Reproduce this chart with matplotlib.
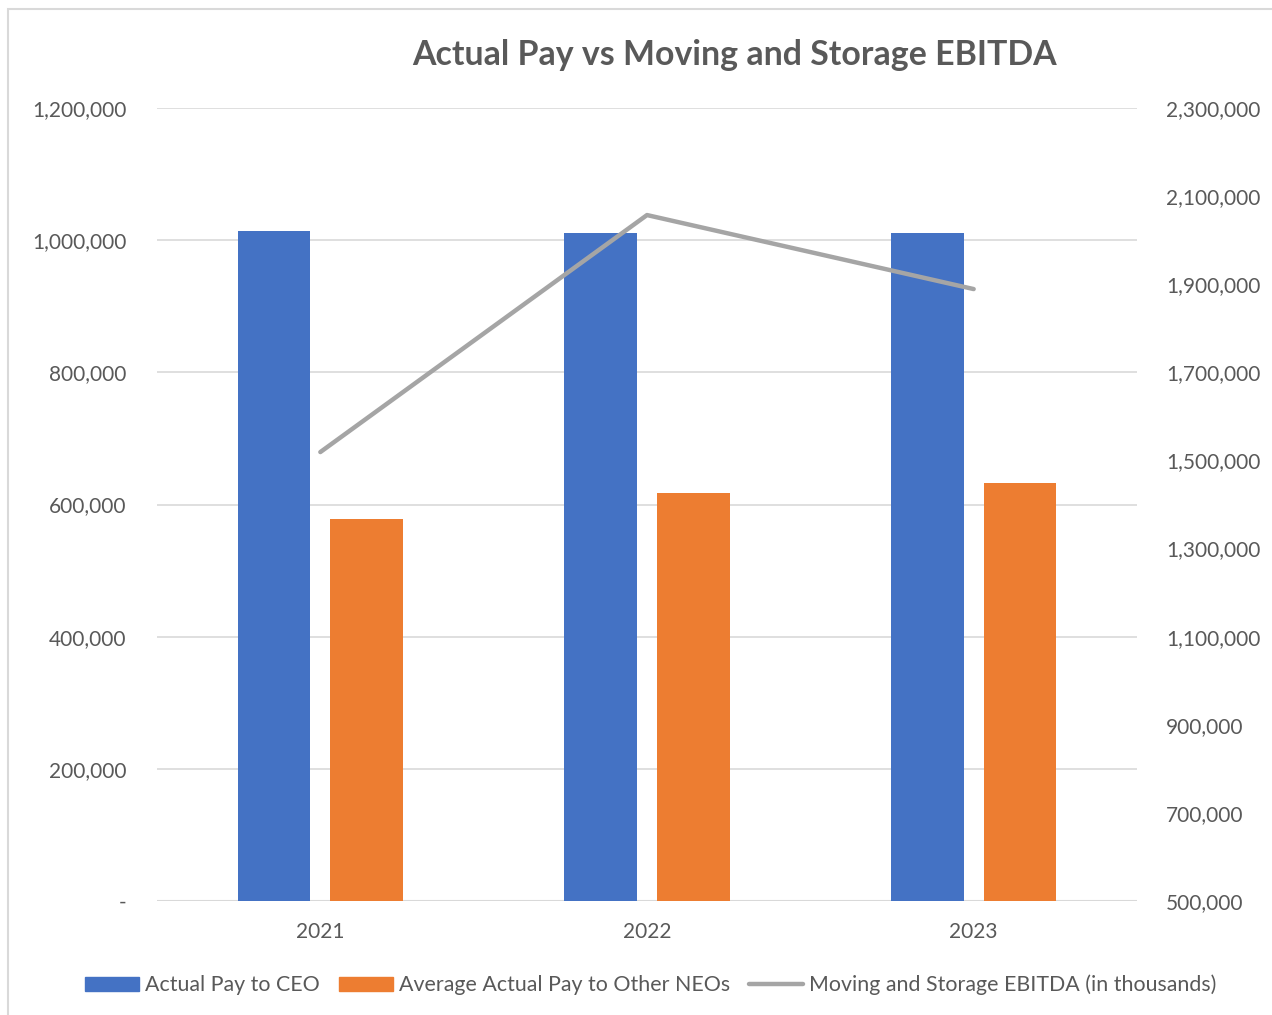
import matplotlib
matplotlib.use('Agg')
import matplotlib.pyplot as plt
from matplotlib.patches import Rectangle
from matplotlib.lines import Line2D
from matplotlib.ticker import FuncFormatter
import numpy as np

plt.rcParams['font.family'] = ['Lato', 'DejaVu Sans']

# Data
years = ['2021', '2022', '2023']
ceo_pay = [1014000, 1011000, 1011000]
neo_pay = [578000, 617000, 632000]
ebitda = [1519000, 2057000, 1889000]

blue = '#4472C4'
orange = '#ED7D31'
gray = '#A5A5A5'
txt = '#595959'
grid = '#D9D9D9'

fig = plt.figure(figsize=(12.72, 10.15), dpi=100)
ax = fig.add_axes([157/1272, 1 - 901/1015, (1137 - 157)/1272, (901 - 108)/1015])
ax2 = ax.twinx()

# chart border (cropped on right and bottom)
fig.patches.append(Rectangle((8/1272, -0.01), 1.0, 1 - 9/1015 + 0.01,
                             transform=fig.transFigure, fill=False,
                             edgecolor=grid, linewidth=1.5))

x = np.arange(len(years))
w = 0.223
off = 0.142
ax.bar(x - off, ceo_pay, w, color=blue, zorder=3)
ax.bar(x + off, neo_pay, w, color=orange, zorder=3)
ax2.plot(x, ebitda, color=gray, linewidth=3.2, solid_capstyle='round', zorder=4)

ax.set_xlim(-0.5, 2.5)
ax.set_ylim(0, 1200000)
ax.set_yticks(np.arange(0, 1200001, 200000))
ax2.set_ylim(500000, 2300000)
ax2.set_yticks(np.arange(500000, 2300001, 200000))

def fmt(v, pos):
    return '-' if v == 0 else f'{int(v):,}'

ax.yaxis.set_major_formatter(FuncFormatter(fmt))
ax2.yaxis.set_major_formatter(FuncFormatter(fmt))
ax.set_xticks(x)
ax.set_xticklabels(years)

ax.grid(axis='y', color=grid, linewidth=1.2, zorder=0)
ax.set_axisbelow(True)
for a in (ax, ax2):
    for s in a.spines.values():
        s.set_visible(False)
    a.tick_params(length=0, labelsize=15, labelcolor=txt)
ax.tick_params(axis='y', pad=22)
ax2.tick_params(axis='y', pad=21)
ax.tick_params(axis='x', pad=15)
ax.axhline(0, color=grid, linewidth=1.5, zorder=1)

ax2.patch.set_visible(False)

fig.text(735/1272, 1 - 55/1015, 'Actual Pay vs Moving and Storage EBITDA',
         ha='center', va='center', fontsize=24.4, fontweight='bold', color=txt)

handles = [Rectangle((0, 0), 1, 1, color=blue),
           Rectangle((0, 0), 1, 1, color=orange),
           Line2D([], [], color=gray, linewidth=3.2, solid_capstyle='round')]
labels = ['Actual Pay to CEO', 'Average Actual Pay to Other NEOs',
          'Moving and Storage EBITDA (in thousands)']
leg = fig.legend(handles, labels, loc='center', bbox_to_anchor=(651/1272, 1 - 985/1015),
                 ncol=3, frameon=False, fontsize=15.4, handlelength=2.5, handleheight=0.6,
                 handletextpad=0.3, columnspacing=0.9)
for t in leg.get_texts():
    t.set_color(txt)

fig.savefig('out.png', dpi=100)
